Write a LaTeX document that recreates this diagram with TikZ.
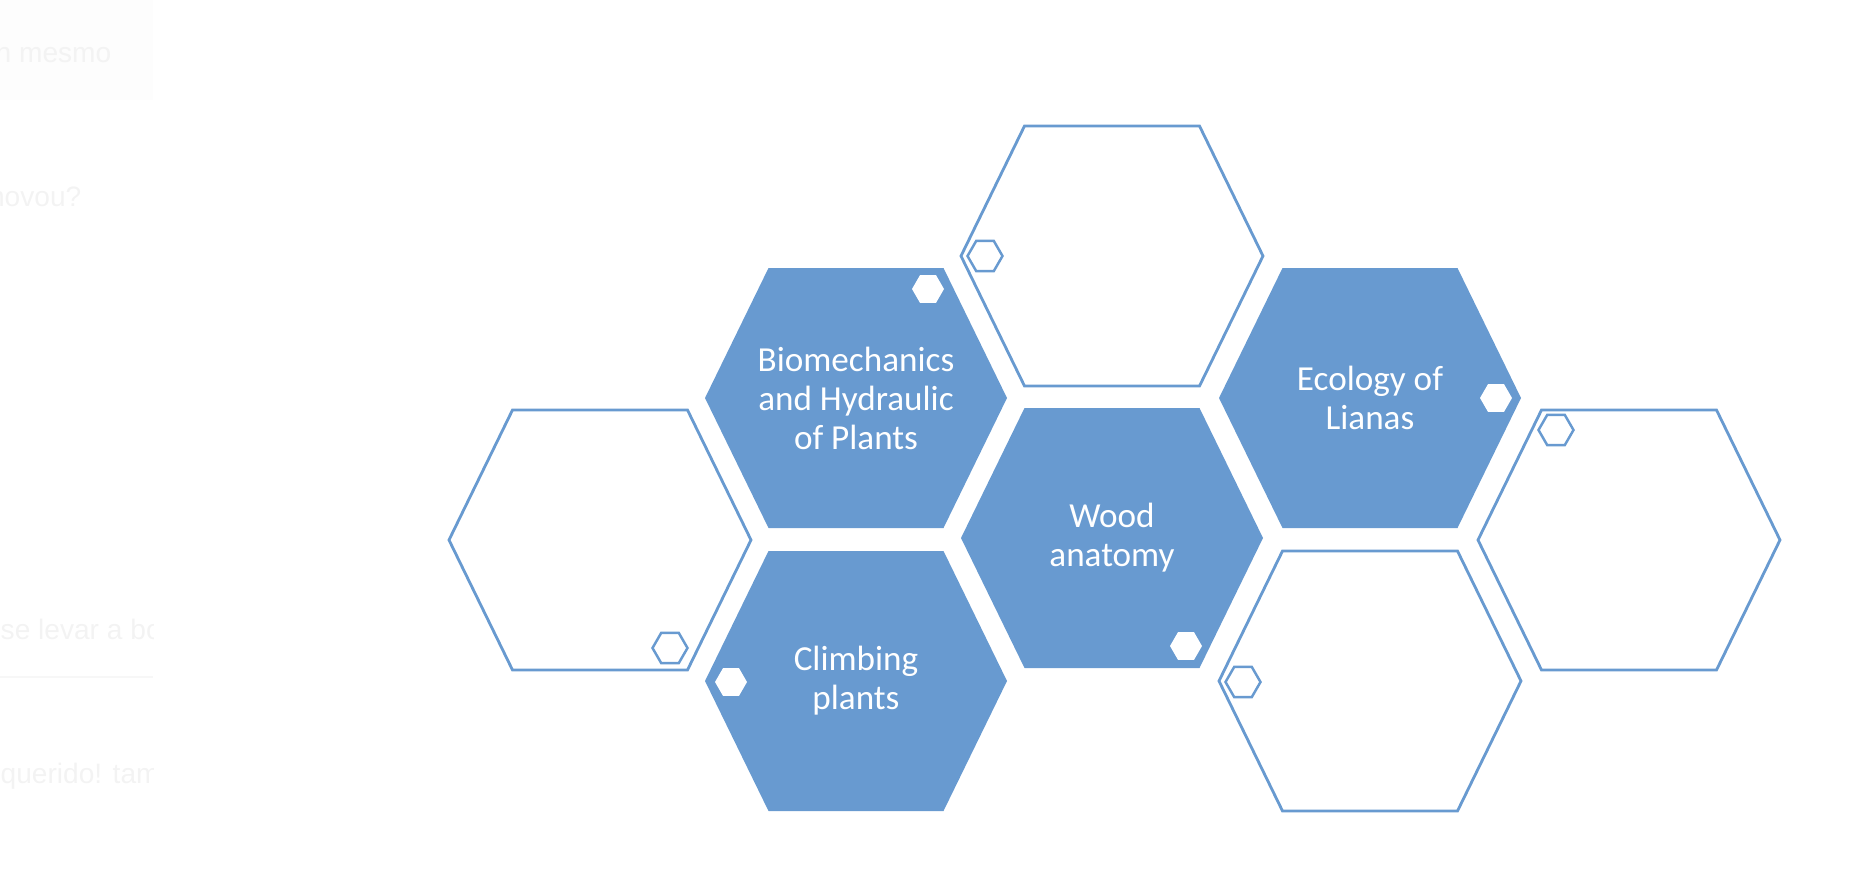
\documentclass[tikz,border=0pt]{standalone}
\usepackage{fontspec}
\setmainfont{Carlito}
\newfontfamily\ghostfont{Liberation Sans}
\usepackage{tikz}
\usetikzlibrary{shapes.geometric}
\usepackage{xcolor}
\definecolor{hexblue}{RGB}{104,154,208}
\definecolor{ghost}{RGB}{243,243,243}
\definecolor{ghostbox}{RGB}{253,253,253}
\definecolor{ghostline}{RGB}{247,247,247}
\tikzset{
  cell/.pic  ={\path[pic actions] (-1.51,0) -- (-0.875,1.30) -- (0.875,1.30)
                -- (1.51,0) -- (0.875,-1.30) -- (-0.875,-1.30) -- cycle;},
  hexf/.style={fill=hexblue},
  hexe/.style={draw=hexblue,line width=0.8pt,fill=white},
  dotf/.style={regular polygon,regular polygon sides=6,fill=white,
               minimum size=0.32cm,inner sep=0pt},
  dote/.style={regular polygon,regular polygon sides=6,draw=hexblue,
               line width=0.7pt,fill=white,minimum size=0.35cm,inner sep=0pt},
  lbl/.style ={text=white,align=center,font=\fontsize{10}{11.1}\selectfont},
  gst/.style ={text=ghost,inner sep=0pt,font=\ghostfont\fontsize{8}{9.6}\selectfont},
}

\begin{document}
\begin{tikzpicture}
\useasboundingbox (0,0) rectangle (18.64,8.88);
% faint leftovers at the left edge
\begin{scope}
  \clip (0,0) rectangle (1.53,8.88);
  \fill[ghostbox] (0,7.88) rectangle (1.53,8.88);
  \node[gst,anchor=base east] (g1) at (1.12,8.26) {n mesmo};
  \node[gst,anchor=base east] (g2) at (0.82,6.82) {novou?};
  \node[gst,anchor=base west] (g3) at (0.00,2.49) {se levar a bo};
  \node[gst,anchor=base west] (g4) at (0.00,1.05) {querido! tam};
  \draw[ghostline,line width=0.4pt] (0,2.11) -- (1.53,2.11);
\end{scope}

% empty cells
\pic[hexe] at (11.12,6.32) {cell};
\pic[hexe] at (6.00,3.48) {cell};
\pic[hexe] at (16.29,3.48) {cell};
\pic[hexe] at (13.70,2.07) {cell};

% filled cells
\pic[hexf] at (8.56,4.90) {cell};
\pic[hexf] at (13.70,4.90) {cell};
\pic[hexf] at (11.12,3.50) {cell};
\pic[hexf] at (8.56,2.07) {cell};

\node[lbl] (bio)   at (8.56,4.90)  {Biomechanics\\and Hydraulic\\of Plants};
\node[lbl] (eco)   at (13.70,4.90) {Ecology of\\Lianas};
\node[lbl] (wood)  at (11.12,3.50) {Wood\\anatomy};
\node[lbl] (climb) at (8.56,2.07)  {Climbing\\plants};

% small hexagons
\node[dotf] (dbio)   at (9.28,5.99)  {};
\node[dotf] (deco)   at (14.96,4.90) {};
\node[dotf] (dwood)  at (11.86,2.42) {};
\node[dotf] (dclimb) at (7.31,2.06)  {};
\node[dote] (dtop)   at (9.85,6.32)  {};
\node[dote] (dleft)  at (6.70,2.40)  {};
\node[dote] (dright) at (15.56,4.58) {};
\node[dote] (dbr)    at (12.43,2.06) {};
\end{tikzpicture}
\end{document}
